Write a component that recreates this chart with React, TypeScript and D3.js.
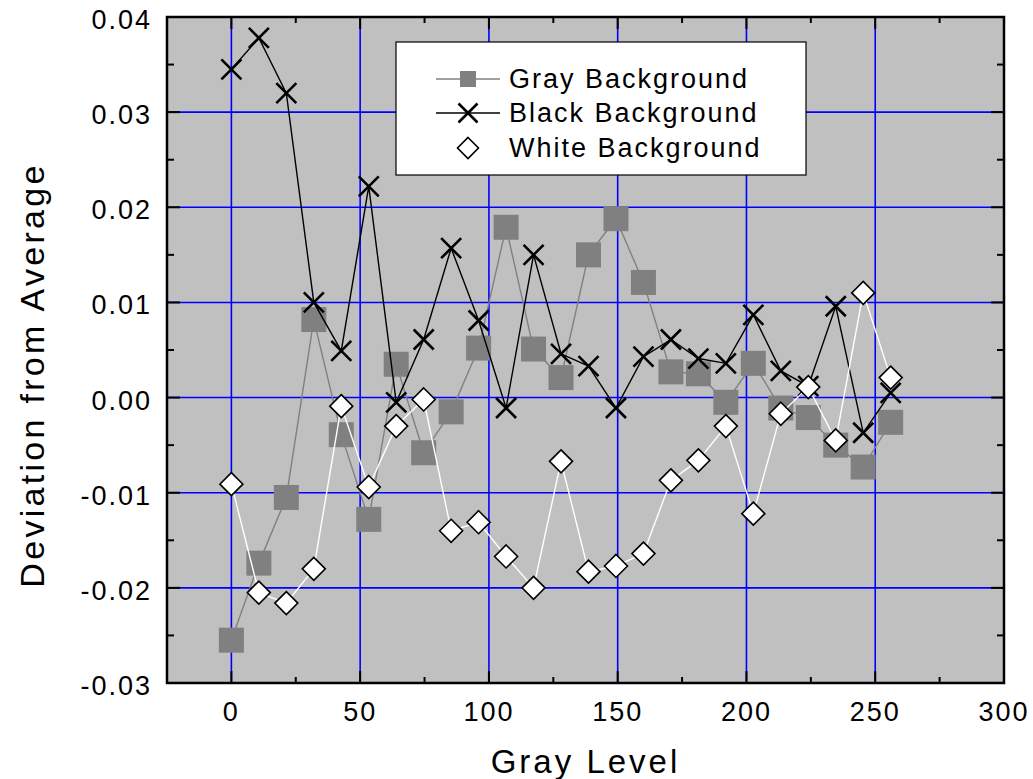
import React from "react";
import * as d3 from "d3";

// gray levels: 25 steps from 0 to 256
const grayLevels = d3.range(25).map((i) => (i * 256) / 24);

const grayBg = [
  -0.0255, -0.0174, -0.0105, 0.0082, -0.0039, -0.0128, 0.0035, -0.0058, -0.0015, 0.0052,
  0.0179, 0.0051, 0.0021, 0.0150, 0.0188, 0.0121, 0.0027, 0.0025, -0.0005, 0.0036,
  -0.0011, -0.0021, -0.0050, -0.0073, -0.0026,
];
const blackBg = [
  0.0345, 0.0378, 0.0320, 0.0100, 0.0049, 0.0222, -0.0005, 0.0061, 0.0157, 0.0081,
  -0.0011, 0.0150, 0.0046, 0.0033, -0.0011, 0.0043, 0.0061, 0.0041, 0.0036, 0.0087,
  0.0028, 0.0012, 0.0096, -0.0037, 0.0005,
];
const whiteBg = [
  -0.0091, -0.0205, -0.0216, -0.0180, -0.0009, -0.0094, -0.0030, -0.0002, -0.0140, -0.0131,
  -0.0167, -0.0200, -0.0067, -0.0183, -0.0177, -0.0164, -0.0087, -0.0066, -0.0030, -0.0122,
  -0.0017, 0.0011, -0.0045, 0.0110, 0.0021,
];

const xTicks = [0, 50, 100, 150, 200, 250, 300];
const xMinor = [-25, 25, 75, 125, 175, 225, 275];
const yTicks = [-0.03, -0.02, -0.01, 0, 0.01, 0.02, 0.03, 0.04];
const yMinor = [-0.025, -0.015, -0.005, 0.005, 0.015, 0.025, 0.035];
const legendLabels = ["Gray Background", "Black Background", "White Background"];

const W = 1033, H = 779;
const left = 167, right = 1004, top = 17, bottom = 683;
const font = "'Liberation Sans', Arial, sans-serif";

export default function App() {
  const x = d3.scaleLinear().domain([-25, 300]).range([left, right]);
  const y = d3.scaleLinear().domain([-0.03, 0.04]).range([bottom, top]);
  const line = (vals: number[]) =>
    d3.line<number>().x((_, i) => x(grayLevels[i])).y((d) => y(d))(vals) || "";

  const square = (cx: number, cy: number, s: number, k: string | number) => (
    <rect key={k} x={cx - s / 2} y={cy - s / 2} width={s} height={s} fill="#808080" />
  );
  const cross = (cx: number, cy: number, h: number, k: string | number) => (
    <path key={k} d={`M${cx - h},${cy - h}L${cx + h},${cy + h}M${cx - h},${cy + h}L${cx + h},${cy - h}`}
      stroke="#000" strokeWidth={2.6} fill="none" />
  );
  const diamond = (cx: number, cy: number, h: number, k: string | number) => (
    <path key={k} d={`M${cx},${cy - h}L${cx + h},${cy}L${cx},${cy + h}L${cx - h},${cy}Z`}
      fill="#fff" stroke="#000" strokeWidth={1.6} />
  );

  const lx0 = 436, lx1 = 500, lmx = 468, ltx = 509;
  const legendRows = [79, 113, 148];

  return (
    <svg width={W} height={H} style={{ position: "absolute", left: 0, top: 0 }} fontFamily={font}>
      <rect x={0} y={0} width={W} height={H} fill="#fff" />
      <rect x={left} y={top} width={right - left} height={bottom - top} fill="#c0c0c0" />
      {/* grid */}
      {xTicks.slice(0, -1).map((t) => (
        <line key={"gx" + t} x1={x(t)} x2={x(t)} y1={top} y2={bottom} stroke="#0000ff" strokeWidth={1.6} />
      ))}
      {yTicks.slice(1, -1).map((t) => (
        <line key={"gy" + t} x1={left} x2={right} y1={y(t)} y2={y(t)} stroke="#0000ff" strokeWidth={1.6} />
      ))}
      {/* ticks, inward on all four sides */}
      {xTicks.map((t) => (
        <g key={"tx" + t} stroke="#000" strokeWidth={2}>
          <line x1={x(t)} x2={x(t)} y1={bottom} y2={bottom - 12} />
          <line x1={x(t)} x2={x(t)} y1={top} y2={top + 12} />
        </g>
      ))}
      {xMinor.map((t) => (
        <g key={"mx" + t} stroke="#000" strokeWidth={2}>
          <line x1={x(t)} x2={x(t)} y1={bottom} y2={bottom - 6} />
          <line x1={x(t)} x2={x(t)} y1={top} y2={top + 6} />
        </g>
      ))}
      {yTicks.map((t) => (
        <g key={"ty" + t} stroke="#000" strokeWidth={2}>
          <line x1={left} x2={left + 13} y1={y(t)} y2={y(t)} />
          <line x1={right} x2={right - 13} y1={y(t)} y2={y(t)} />
        </g>
      ))}
      {yMinor.map((t) => (
        <g key={"my" + t} stroke="#000" strokeWidth={2}>
          <line x1={left} x2={left + 7} y1={y(t)} y2={y(t)} />
          <line x1={right} x2={right - 7} y1={y(t)} y2={y(t)} />
        </g>
      ))}
      <rect x={left} y={top} width={right - left} height={bottom - top} fill="none" stroke="#000" strokeWidth={2.5} />
      {/* tick labels */}
      {xTicks.map((t) => (
        <text key={"lx" + t} x={x(t)} y={721} textAnchor="middle" fontSize={27} letterSpacing={2}>
          {t}
        </text>
      ))}
      {yTicks.map((t) => (
        <text key={"ly" + t} x={152} y={y(t) + 12} textAnchor="end" fontSize={27} letterSpacing={2}>
          {t.toFixed(2)}
        </text>
      ))}
      {/* axis titles */}
      <text x={(left + right) / 2} y={773} textAnchor="middle" fontSize={33} letterSpacing={3}>
        Gray Level
      </text>
      <text transform={`translate(44,375) rotate(-90)`} textAnchor="middle" fontSize={34} letterSpacing={3.3}>
        Deviation from Average
      </text>
      {/* series */}
      <path d={line(grayBg)} fill="none" stroke="#808080" strokeWidth={1.4} />
      {grayBg.map((v, i) => square(x(grayLevels[i]), y(v), 25, "s" + i))}
      <path d={line(blackBg)} fill="none" stroke="#000" strokeWidth={1.4} />
      {blackBg.map((v, i) => cross(x(grayLevels[i]), y(v), 10, "c" + i))}
      <path d={line(whiteBg)} fill="none" stroke="#fff" strokeWidth={1.4} />
      {whiteBg.map((v, i) => diamond(x(grayLevels[i]), y(v), 11.5, "d" + i))}
      {/* legend */}
      <rect x={396} y={42} width={410} height={133} fill="#fff" stroke="#000" strokeWidth={1.2} />
      <line x1={lx0} x2={lx1} y1={legendRows[0]} y2={legendRows[0]} stroke="#808080" strokeWidth={1.4} />
      {square(lmx, legendRows[0], 16, "ls")}
      <line x1={lx0} x2={lx1} y1={legendRows[1]} y2={legendRows[1]} stroke="#000" strokeWidth={1.4} />
      {cross(lmx, legendRows[1], 9.5, "lc")}
      {diamond(lmx, legendRows[2], 10.5, "ld")}
      {legendLabels.map((l, i) => (
        <text key={l} x={ltx} y={legendRows[i] + 9} fontSize={27} letterSpacing={2}>
          {l}
        </text>
      ))}
    </svg>
  );
}
